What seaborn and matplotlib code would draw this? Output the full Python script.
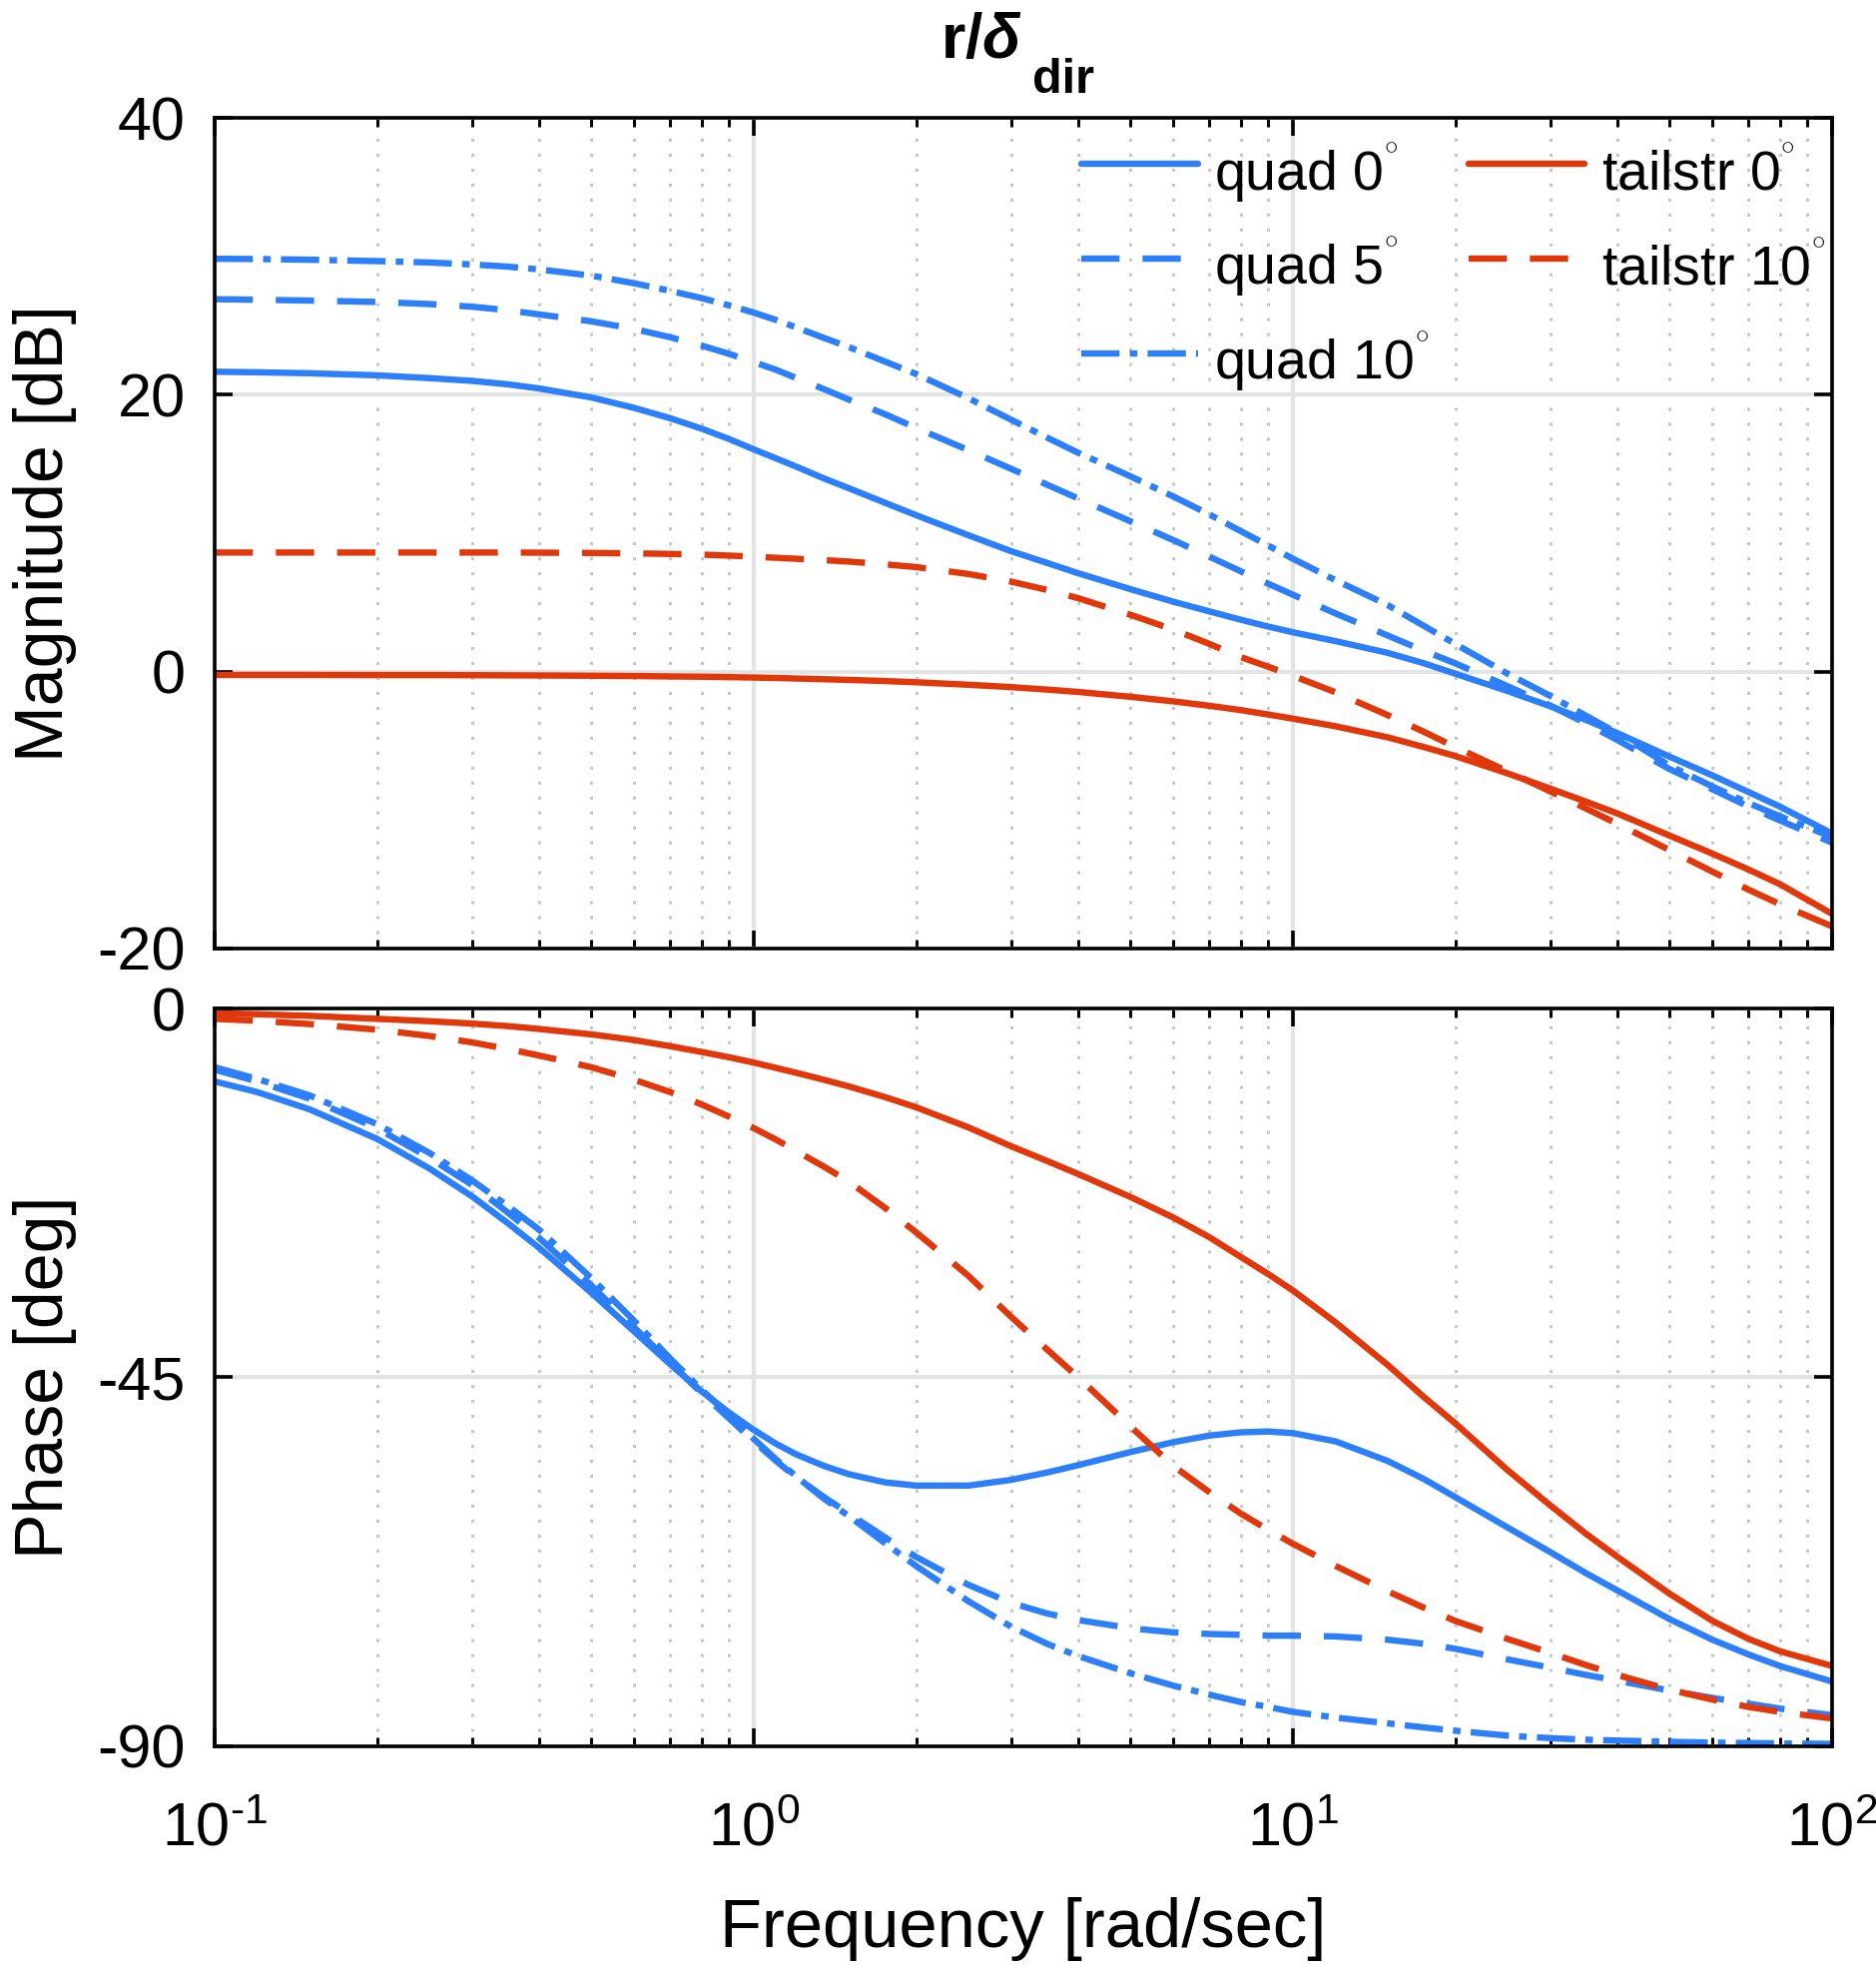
import matplotlib
matplotlib.use("Agg")
import matplotlib.pyplot as plt
import matplotlib.ticker as mticker
from matplotlib.mathtext import MathTextParser
import seaborn as sns
import numpy as np

# ---------------- data ----------------
freq = [0.1, 0.12, 0.15, 0.2, 0.25, 0.3, 0.35, 0.4, 0.5, 0.6, 0.7, 0.8, 0.9, 1.0,
        1.1, 1.2, 1.35, 1.5, 1.75, 2, 2.5, 3, 3.5, 4, 5, 6, 7, 8, 9, 10,
        12, 15, 17.5, 20, 25, 30, 35, 40, 50, 60, 70, 80, 100]

mag_quad0 = [21.66, 21.62, 21.55, 21.40, 21.2, 21.0, 20.75, 20.45, 19.8, 19.05, 18.3,
             17.55, 16.8, 16.05, 15.4, 14.8, 13.95, 13.25, 12.2, 11.3, 9.85, 8.7, 7.85,
             7.1, 5.95, 5.05, 4.35, 3.75, 3.25, 2.84, 2.2, 1.35, 0.6, -0.15, -1.4, -2.5,
             -3.5, -4.45, -6.15, -7.5, -8.7, -9.75, -11.7]
mag_quad5 = [26.9, 26.86, 26.8, 26.7, 26.55, 26.36, 26.1, 25.8, 25.3, 24.75, 24.15,
             23.55, 22.95, 22.35, 21.8, 21.2, 20.4, 19.65, 18.6, 17.6, 16.0, 14.65, 13.5,
             12.5, 10.85, 9.5, 8.3, 7.25, 6.35, 5.55, 4.2, 2.6, 1.5, 0.6, -1.05, -2.45,
             -3.75, -4.95, -7.05, -8.5, -9.75, -10.75, -12.35]
mag_quad10 = [29.82, 29.8, 29.75, 29.65, 29.55, 29.41, 29.25, 29.05, 28.6, 28.05, 27.5,
              26.98, 26.45, 25.93, 25.4, 24.85, 24.1, 23.45, 22.4, 21.5, 19.75, 18.2,
              16.9, 15.8, 14.1, 12.65, 11.35, 10.15, 9.1, 8.15, 6.6, 4.8, 3.3, 2.0,
              -0.15, -1.75, -3.2, -4.45, -6.8, -8.3, -9.5, -10.45, -11.95]
mag_tail0 = [-0.24, -0.24, -0.24, -0.25, -0.25, -0.26, -0.27, -0.28, -0.3, -0.32, -0.35,
             -0.37, -0.4, -0.43, -0.46, -0.5, -0.55, -0.6, -0.68, -0.77, -0.95, -1.12,
             -1.3, -1.47, -1.82, -2.15, -2.47, -2.78, -3.1, -3.4, -3.95, -4.75, -5.45,
             -6.1, -7.35, -8.45, -9.4, -10.25, -11.85, -13.15, -14.3, -15.35, -17.5]
mag_tail10 = [8.6, 8.6, 8.6, 8.6, 8.6, 8.6, 8.6, 8.59, 8.57, 8.54, 8.5, 8.45, 8.38, 8.3,
              8.22, 8.15, 8.05, 7.95, 7.75, 7.55, 7.05, 6.5, 5.9, 5.3, 4.1, 3.03, 2.0,
              1.05, 0.35, -0.3, -1.5, -3.15, -4.35, -5.45, -7.2, -8.65, -9.9, -11.0,
              -12.9, -14.45, -15.75, -16.8, -18.4]

ph_quad0 = [-8.9, -10.2, -12.3, -15.9, -19.5, -22.9, -26.2, -29.2, -34.7, -39.4, -43.4,
            -46.7, -49.3, -51.4, -53.1, -54.4, -55.8, -56.8, -57.8, -58.2, -58.2, -57.5,
            -56.6, -55.7, -54.1, -52.9, -52.1, -51.7, -51.6, -51.8, -52.8, -55.2, -57.4,
            -59.6, -63.3, -66.3, -68.9, -71.0, -74.5, -77.0, -78.8, -80.2, -82.1]
ph_quad5 = [-7.46, -8.9, -11.0, -14.6, -18.2, -21.5, -24.9, -28.0, -33.8, -38.9, -43.2,
            -46.9, -50.0, -52.8, -55.2, -57.2, -59.6, -61.6, -64.5, -66.9, -70.3, -72.5,
            -73.8, -74.6, -75.6, -76.1, -76.3, -76.4, -76.5, -76.5, -76.6, -77.0, -77.5,
            -78.1, -79.4, -80.4, -81.3, -82.0, -83.2, -84.1, -84.8, -85.4, -86.2]
ph_quad10 = [-7.17, -8.6, -10.6, -14.1, -17.6, -20.95, -24.1, -27.0, -32.9, -38.1, -42.7,
             -46.5, -49.6, -52.5, -55.0, -57.1, -59.8, -61.9, -65.2, -68.0, -72.3, -75.4,
             -77.5, -79.0, -81.1, -82.6, -83.7, -84.6, -85.2, -85.8, -86.5, -87.2, -87.7,
             -88.1, -88.7, -89.0, -89.2, -89.3, -89.45, -89.55, -89.6, -89.65, -89.7]
ph_tail0 = [-0.57, -0.7, -0.9, -1.26, -1.55, -1.84, -2.15, -2.5, -3.16, -3.85, -4.6,
            -5.3, -5.95, -6.6, -7.25, -7.85, -8.7, -9.5, -10.8, -12.05, -14.5, -16.8,
            -18.6, -20.2, -23.0, -25.5, -27.9, -30.3, -32.4, -34.4, -38.3, -43.5, -47.4,
            -50.6, -56.3, -60.6, -64.1, -66.9, -71.4, -74.7, -76.9, -78.4, -80.2]
ph_tail10 = [-1.26, -1.5, -1.9, -2.58, -3.35, -4.13, -4.95, -5.74, -7.17, -8.7, -10.2,
             -11.7, -13.2, -14.6, -16.0, -17.4, -19.3, -21.1, -24.3, -27.3, -32.6, -37.6,
             -41.6, -45.0, -51.0, -55.8, -59.0, -61.6, -63.6, -65.3, -68.0, -71.1, -73.1,
             -74.7, -76.9, -78.6, -80.1, -81.3, -83.1, -84.3, -85.2, -85.8, -86.6]

label_names = ['quad 0', 'quad 5', 'quad 10', 'tailstr 0', 'tailstr 10']
mag_yticks = [-20, 0, 20, 40]
ph_yticks = [-90, -45, 0]
xticks = [0.1, 1, 10, 100]
xtick_labels = ['10$^{\\text{-1}}$', '10$^{\\text{0}}$', '10$^{\\text{1}}$', '10$^{\\text{2}}$']

# ---------------- style ----------------
sns.set_theme(style="white")
plt.rcParams.update({
    'font.family': ['Liberation Sans', 'DejaVu Sans'],
    'mathtext.fontset': 'custom',
    'mathtext.rm': 'Liberation Sans',
    'mathtext.it': 'Liberation Sans:italic:bold',
    'mathtext.bf': 'Liberation Sans:bold',
    'axes.unicode_minus': False,
    'text.color': 'black',
    'axes.labelcolor': 'black',
    'xtick.color': 'black',
    'ytick.color': 'black',
})

# raised degree ring (superscript of a superscript), with a safe fallback
deg = '$^{^{\\circ}}$'
try:
    MathTextParser('path').parse(deg, dpi=100)
except Exception:
    deg = '$^{\\circ}$'
labels = [n + deg for n in label_names]

BLUE = '#2D7FF9'
RED = '#E0380A'
LW = 4.6
solid = '-'
dashed = (0, (6.0, 3.6))
dashdot = (0, (6.0, 1.6, 1.2, 1.6))

styles = [(BLUE, solid), (BLUE, dashed), (BLUE, dashdot), (RED, solid), (RED, dashed)]

fig = plt.figure(figsize=(18.79, 19.70), dpi=100)
ax1 = fig.add_axes([0.1144, 0.5178, 0.8622, 0.4223])
ax2 = fig.add_axes([0.1144, 0.1122, 0.8622, 0.3751])

mags = [mag_quad0, mag_quad5, mag_quad10, mag_tail0, mag_tail10]
phs = [ph_quad0, ph_quad5, ph_quad10, ph_tail0, ph_tail10]

for (c, ls), m, lab in zip(styles, mags, labels):
    sns.lineplot(x=freq, y=m, ax=ax1, color=c, linestyle=ls, linewidth=LW,
                 label=lab, estimator=None, sort=False)
for (c, ls), p in zip(styles, phs):
    sns.lineplot(x=freq, y=p, ax=ax2, color=c, linestyle=ls, linewidth=LW,
                 estimator=None, sort=False, legend=False)

for ax in (ax1, ax2):
    ax.set_xscale('log')
    ax.set_xlim(0.1, 100)
    ax.set_axisbelow(True)
    ax.xaxis.set_major_locator(mticker.FixedLocator(xticks))
    ax.xaxis.set_minor_locator(mticker.LogLocator(base=10, subs=np.arange(2, 10)))
    ax.xaxis.set_minor_formatter(mticker.NullFormatter())
    ax.yaxis.set_minor_locator(mticker.NullLocator())
    ax.grid(which='major', color='#E2E5E4', linewidth=3.0, linestyle='-')
    ax.grid(which='minor', axis='x', color='#C3C8C7', linewidth=2.2,
            linestyle=(0, (1, 3.9)))
    for s in ax.spines.values():
        s.set_linewidth(2.6)
        s.set_color('black')
        s.set_visible(True)
    ax.tick_params(which='both', direction='in', top=True, right=True,
                   bottom=True, left=True, color='black', labelsize=44,
                   labelcolor='black')
    ax.tick_params(which='major', length=13, width=2.6)
    ax.tick_params(which='minor', length=6.5, width=2.2)
    ax.tick_params(axis='y', which='major', pad=21)
    ax.tick_params(axis='x', which='major', pad=40)

ax1.set_ylim(-20, 40)
ax1.set_yticks(mag_yticks)
ax1.set_yticklabels([str(v) for v in mag_yticks])
ax1.tick_params(axis='x', which='both', labelbottom=False)
ax2.set_ylim(-90, 0)
ax2.set_yticks(ph_yticks)
ax2.set_yticklabels([str(v) for v in ph_yticks])
ax2.set_xticks(xticks)
ax2.set_xticklabels(xtick_labels)

ax1.set_ylabel('Magnitude [dB]', fontsize=49)
ax2.set_ylabel('Phase [deg]', fontsize=49)
ax2.set_xlabel('Frequency [rad/sec]', fontsize=49.5)
ax1.yaxis.set_label_coords(-0.085, 0.5)
ax2.yaxis.set_label_coords(-0.085, 0.5)
ax2.xaxis.set_label_coords(0.5, -0.205)

# title r/delta_dir (bold, subscript)
fig.text(942 / 1879, 1 - 58 / 1970, r'r/$\delta$', fontsize=45, fontweight='bold',
         ha='left', va='baseline')
fig.text(1034 / 1879, 1 - 93 / 1970, 'dir', fontsize=35, fontweight='bold',
         ha='left', va='baseline')

ax1.legend(loc='upper left', bbox_to_anchor=(0.5358, 0.977), ncol=2, frameon=False,
           fontsize=40, handlelength=2.1, handleheight=1.6, handletextpad=0.3,
           columnspacing=0.7, labelspacing=0.42, borderpad=0, borderaxespad=0)

fig.savefig('out.png', dpi=100, facecolor='white')
